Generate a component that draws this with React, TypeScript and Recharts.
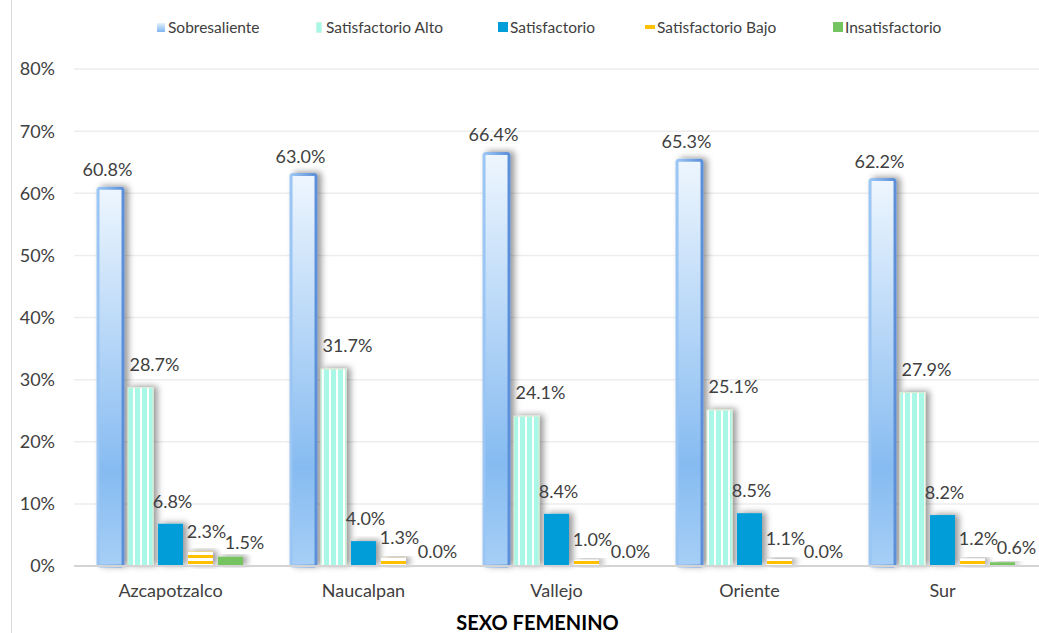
import React from 'react';
import { BarChart, Bar, XAxis, YAxis, CartesianGrid, LabelList } from 'recharts';

const categories = ['Azcapotzalco', 'Naucalpan', 'Vallejo', 'Oriente', 'Sur'];
const sobresaliente = [60.8, 63.0, 66.4, 65.3, 62.2];
const satisfactorioAlto = [28.7, 31.7, 24.1, 25.1, 27.9];
const satisfactorio = [6.8, 4.0, 8.4, 8.5, 8.2];
const satisfactorioBajo = [2.3, 1.3, 1.0, 1.1, 1.2];
const insatisfactorio = [1.5, 0.0, 0.0, 0.0, 0.6];
const yTicks = [0, 10, 20, 30, 40, 50, 60, 70, 80];
const seriesNames = ['Sobresaliente', 'Satisfactorio Alto', 'Satisfactorio', 'Satisfactorio Bajo', 'Insatisfactorio'];

const data = categories.map((c, i) => ({
  name: c,
  sob: sobresaliente[i],
  alto: satisfactorioAlto[i],
  sat: satisfactorio[i],
  bajo: satisfactorioBajo[i],
  insat: insatisfactorio[i],
}));

const FONT = 'Lato, "Open Sans", sans-serif';
const TXT = '#404040';

// label above a bar, shifted a bit like the original
const makeLabel = (dx: number, dy: number) => (p: any) => {
  const { x, y, width, value } = p;
  return (
    <text
      x={Number(x) + Number(width) / 2 + dx}
      y={Number(y) - dy}
      textAnchor="middle"
      fontSize={18}
      fontFamily={FONT}
      fill={TXT}
    >
      {Number(value).toFixed(1)}%
    </text>
  );
};

const sobShape = (p: any) => {
  if (!p.height) return <g />;
  return (
    <g filter="url(#shadow)">
      <rect x={p.x} y={p.y} width={p.width} height={p.height} rx={2} fill="url(#gradSob)" stroke="url(#gradSobEdge)" strokeWidth={3} />
    </g>
  );
};

const altoShape = (p: any) => {
  if (!p.height) return <g />;
  return (
    <g filter="url(#shadow)">
      <rect x={p.x} y={p.y} width={p.width} height={p.height} fill="url(#vStripe)" stroke="#dcefd6" strokeWidth={1} />
    </g>
  );
};

const satShape = (p: any) => {
  if (!p.height) return <g />;
  return <rect x={p.x} y={p.y} width={p.width} height={p.height} fill="#009dd9" filter="url(#shadow)" />;
};

const bajoShape = (p: any) => {
  if (!p.height) return <g />;
  return <rect x={p.x} y={p.y} width={p.width} height={p.height} fill="url(#hStripe)" filter="url(#shadow)" />;
};

const insatShape = (p: any) => {
  if (!p.height) return <g />;
  return <rect x={p.x} y={p.y} width={p.width} height={p.height} fill="#74c461" filter="url(#shadow)" />;
};

const legendIcons = [
  <svg width={8} height={9}><defs><linearGradient id="lgSob" x1="0" y1="0" x2="0" y2="1"><stop offset="0" stopColor="#e6f1fc" /><stop offset="1" stopColor="#7fb5ef" /></linearGradient></defs><rect width={8} height={9} fill="url(#lgSob)" /></svg>,
  <svg width={6} height={11}><rect width={6} height={11} fill="#a9f7e6" stroke="#e8f5e4" /></svg>,
  <svg width={10} height={10}><rect width={10} height={10} fill="#009dd9" /></svg>,
  <svg width={10} height={4}><rect width={10} height={4} fill="#ffc000" /></svg>,
  <svg width={10} height={10}><rect width={10} height={10} fill="#74c461" /></svg>,
];
const legendX = [156, 314, 498, 645, 833];

export default function App() {
  return (
    <div style={{ position: 'relative', width: 1039, height: 633, background: '#fff', overflow: 'hidden' }}>
      <style>{'body{margin:0}'}</style>
      <div style={{ position: 'absolute', left: 11, top: 0, width: 1, height: 633, background: '#d9d9d9' }} />
      {seriesNames.map((n, i) => (
        <div
          key={n}
          style={{
            position: 'absolute',
            left: legendX[i],
            top: 18,
            display: 'flex',
            alignItems: 'center',
            fontFamily: FONT,
            fontSize: 15.5,
            color: TXT,
            whiteSpace: 'nowrap',
          }}
        >
          <span style={{ display: 'inline-flex', width: 10, justifyContent: 'center', marginRight: 2 }}>{legendIcons[i]}</span>
          {n}
        </div>
      ))}
      <BarChart
        width={1039}
        height={633}
        data={data}
        margin={{ top: 69, right: 0, bottom: 0, left: 2 }}
        barSize={25}
        barGap={5}
      >
        <defs>
          <linearGradient id="gradSob" x1="0" y1="0" x2="0" y2="1">
            <stop offset="0" stopColor="#eef6fe" />
            <stop offset="0.75" stopColor="#86bbf1" />
            <stop offset="1" stopColor="#a6cff6" />
          </linearGradient>
          <linearGradient id="gradSobEdge" x1="0" y1="0" x2="1" y2="0">
            <stop offset="0" stopColor="#9cc6f3" />
            <stop offset="1" stopColor="#5b8fd8" />
          </linearGradient>
          <pattern id="vStripe" width={7} height={10} patternUnits="userSpaceOnUse">
            <rect width={7} height={10} fill="#ffffff" />
            <rect x={2} width={5} height={10} fill="#a9f7e6" />
          </pattern>
          <pattern id="hStripe" width={10} height={6} patternUnits="userSpaceOnUse">
            <rect width={10} height={6} fill="#ffffff" />
            <rect y={3} width={10} height={3} fill="#ffc000" />
          </pattern>
          <filter id="shadow" x="-50%" y="-20%" width="200%" height="140%">
            <feDropShadow dx={4} dy={-1} stdDeviation={3} floodColor="#000" floodOpacity={0.4} />
          </filter>
        </defs>
        <CartesianGrid vertical={false} stroke="#ededed" strokeWidth={1.5} />
        <XAxis
          dataKey="name"
          height={67}
          tickLine={false}
          axisLine={{ stroke: '#d4d4d4', strokeWidth: 2 }}
          tickSize={0}
          tickMargin={18}
          tick={{ fontSize: 18, fontFamily: FONT, fill: TXT }}
          label={{
            value: 'SEXO FEMENINO',
            position: 'insideBottom',
            offset: 3,
            dx: -19,
            style: { fontSize: 20, fontWeight: 700, fontFamily: FONT, fill: '#000' },
          }}
        />
        <YAxis
          width={72}
          domain={[0, 80]}
          ticks={yTicks}
          tickFormatter={(v: number) => `${v}%`}
          axisLine={false}
          tickLine={false}
          tickSize={0}
          tickMargin={19}
          tick={{ fontSize: 18, fontFamily: FONT, fill: TXT }}
        />
        <Bar dataKey="sob" name={seriesNames[0]} shape={sobShape} isAnimationActive={false}>
          <LabelList dataKey="sob" content={makeLabel(-3, 12)} />
        </Bar>
        <Bar dataKey="alto" name={seriesNames[1]} shape={altoShape} isAnimationActive={false}>
          <LabelList dataKey="alto" content={makeLabel(14, 17)} />
        </Bar>
        <Bar dataKey="sat" name={seriesNames[2]} shape={satShape} isAnimationActive={false}>
          <LabelList dataKey="sat" content={makeLabel(2, 16)} />
        </Bar>
        <Bar dataKey="bajo" name={seriesNames[3]} shape={bajoShape} isAnimationActive={false}>
          <LabelList dataKey="bajo" content={makeLabel(6, 14)} />
        </Bar>
        <Bar dataKey="insat" name={seriesNames[4]} shape={insatShape} isAnimationActive={false}>
          <LabelList dataKey="insat" content={makeLabel(14, 8)} />
        </Bar>
      </BarChart>
    </div>
  );
}
